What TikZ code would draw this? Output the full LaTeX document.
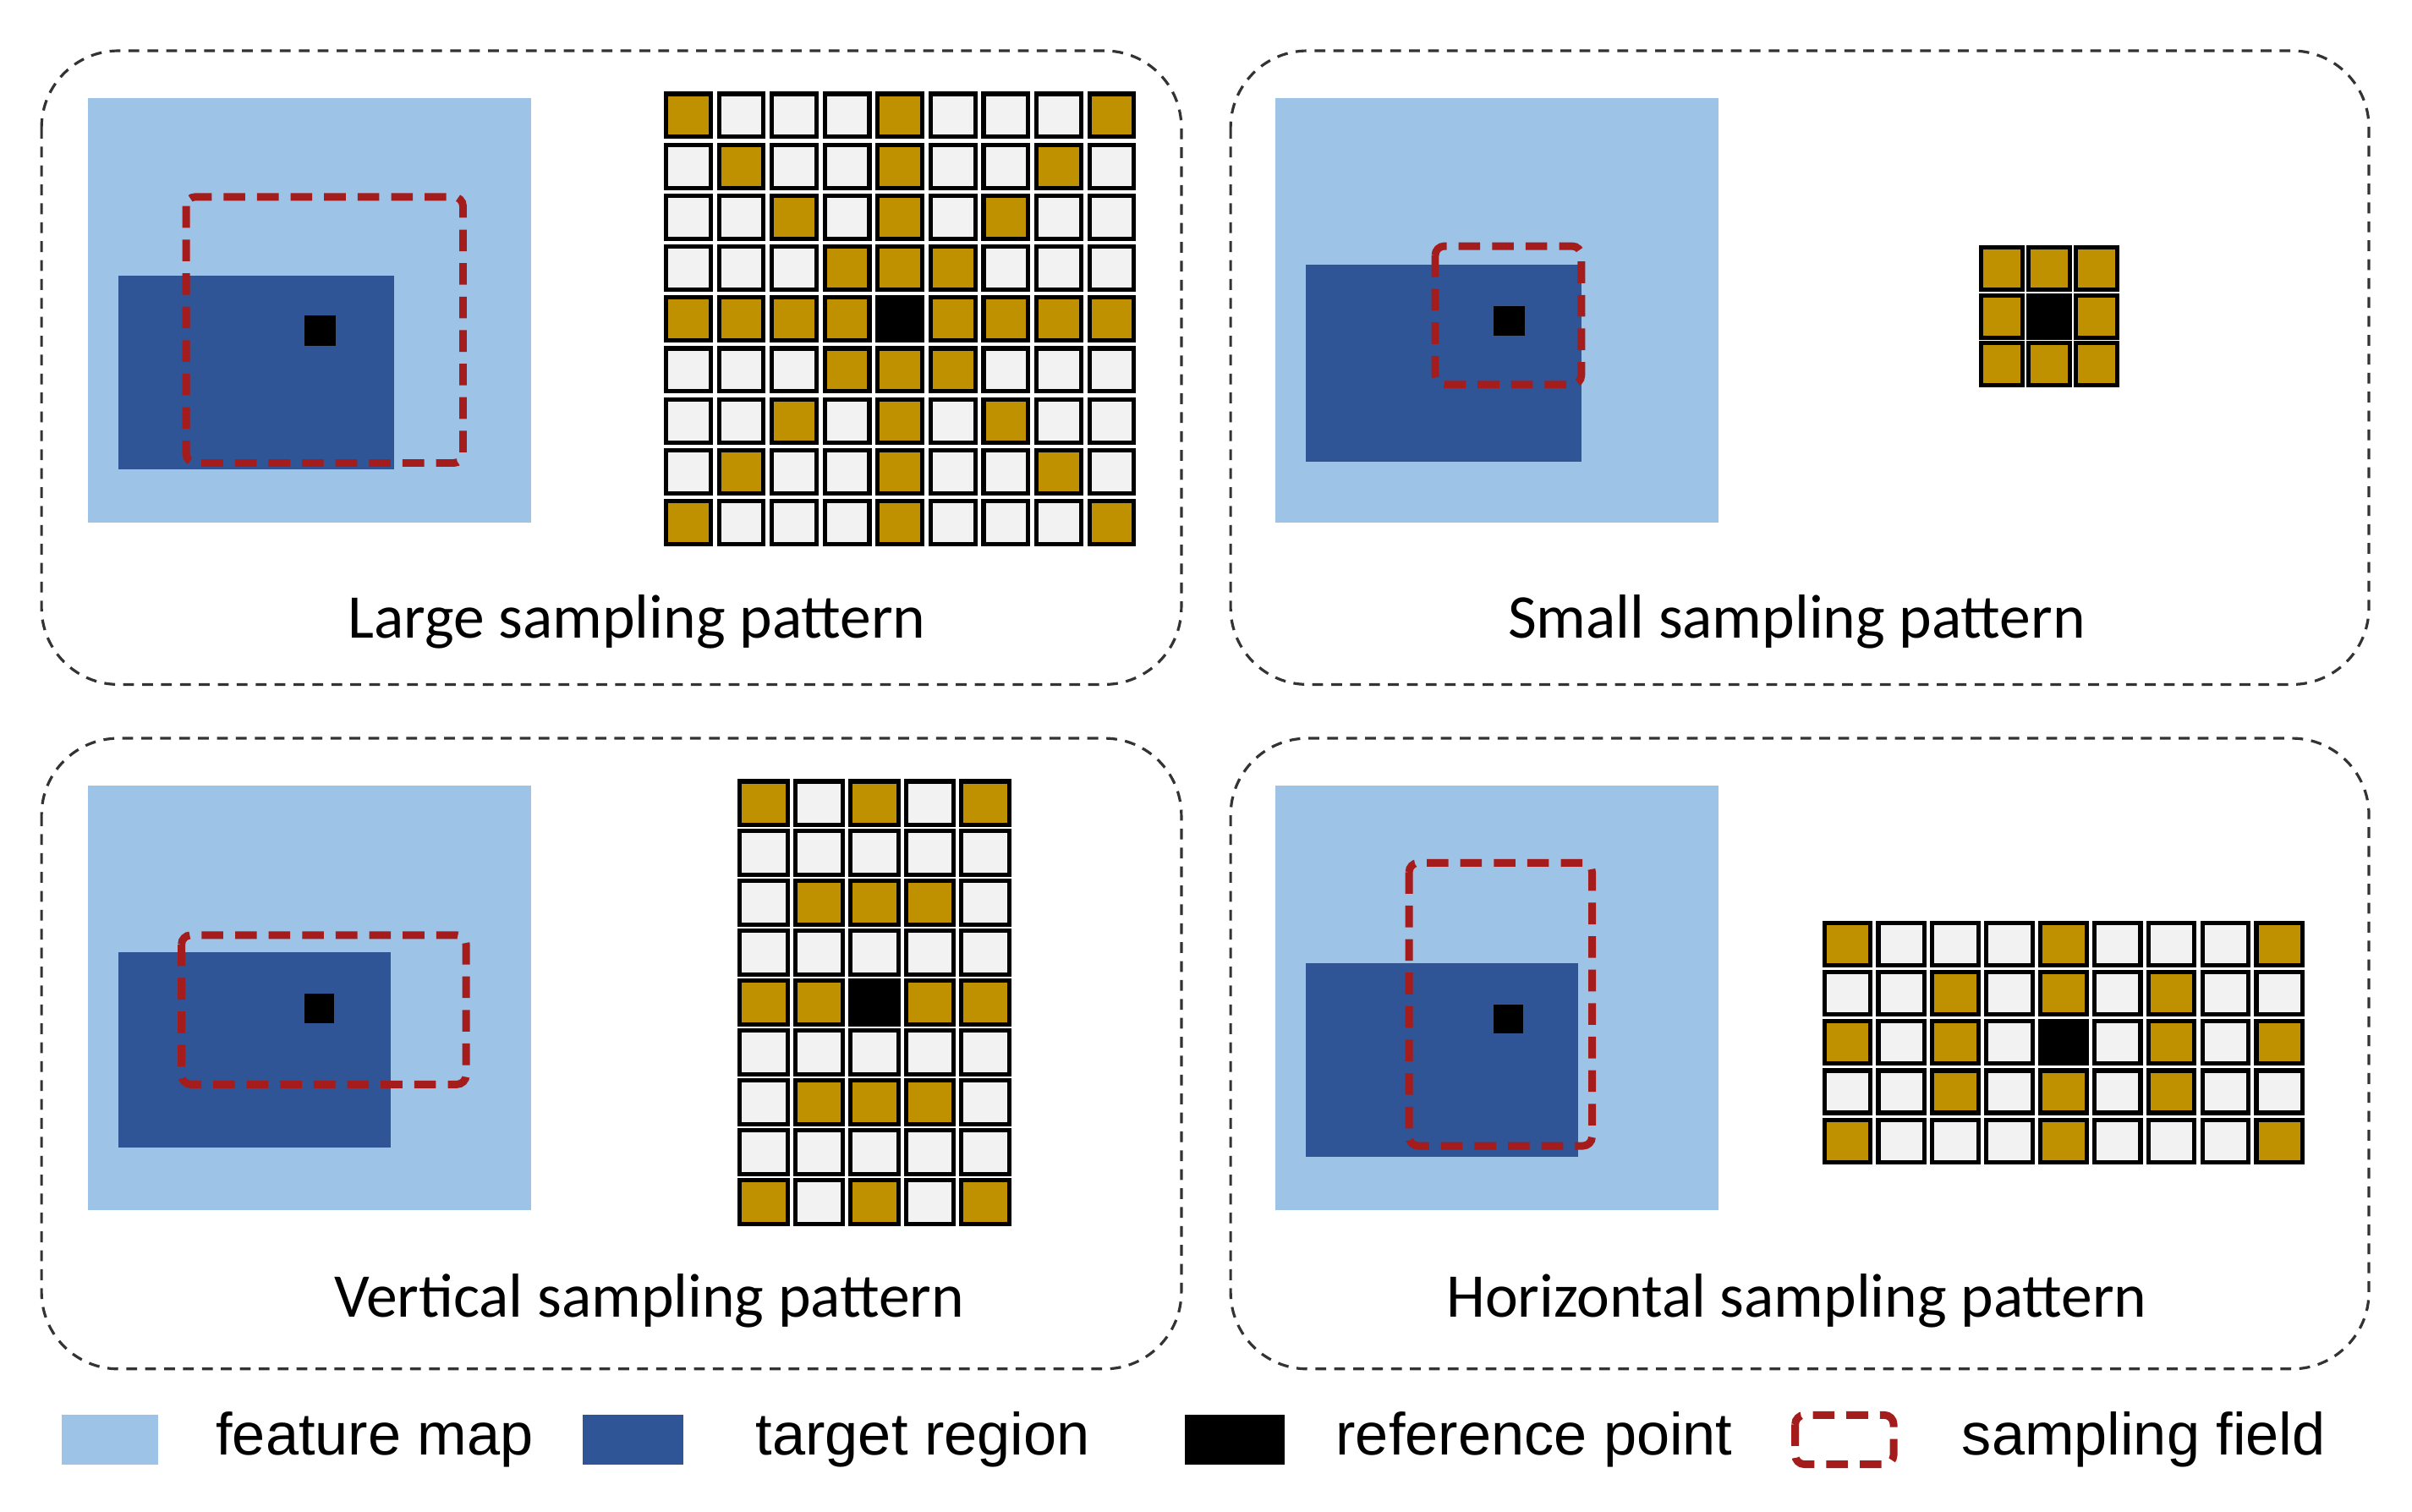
\documentclass[tikz,border=0pt]{standalone}
\usepackage{fontspec}
\setmainfont{Carlito}
\newfontfamily\legfont{Liberation Sans}
\definecolor{fmap}{HTML}{9DC3E6}
\definecolor{treg}{HTML}{2F5597}
\definecolor{gold}{HTML}{BF9000}
\definecolor{cellbg}{HTML}{F2F2F2}
\definecolor{sred}{HTML}{A51C1C}
\begin{document}
\begin{tikzpicture}[x=0.1mm,y=-0.1mm,
  panel/.style={draw=black!80,dashed,line width=0.5pt,dash pattern=on 2pt off 1.5pt,rounded corners=5mm},
  fmapbox/.style={fill=fmap,draw=none},
  tregbox/.style={fill=treg,draw=none},
  refpt/.style={fill=black,draw=none},
  sfield/.style={draw=sred,line width=1.4pt,dash pattern=on 4pt off 2.2pt,rounded corners=0.6mm},
  cell/.style={draw=black,line width=0.8pt,fill=cellbg},
  gcell/.style={draw=black,line width=0.8pt,fill=gold},
  bcell/.style={draw=black,line width=0.8pt,fill=black},
  captxt/.style={font=\fontsize{11.5}{13}\selectfont,anchor=center},
  leg/.style={font=\legfont\fontsize{11}{13}\selectfont,anchor=west}]
\useasboundingbox[fill=white] (0,0) rectangle (1568,983);
% panels
\draw[panel] (27,33) rectangle (768,445);
\draw[panel] (800,33) rectangle (1540,445);
\draw[panel] (27,480) rectangle (768,890);
\draw[panel] (800,480) rectangle (1540,890);
% TL
\fill[fmapbox] (57,64) rectangle (345,340);
\fill[tregbox] (77,179) rectangle (256,305);
\fill[refpt] (198,205) rectangle (218,225);
\draw[sfield] (121,128) rectangle (301,301);
\foreach \r in {0,...,8}{\foreach \c in {0,...,8}{
  \pgfmathtruncatemacro\g{or(or(\r==\c,\r+\c==8),or(\r==4,\c==4))}
  \pgfmathtruncatemacro\b{and(\r==4,\c==4)}
  \ifnum\b=1 \def\st{bcell}\else\ifnum\g=1 \def\st{gcell}\else\def\st{cell}\fi\fi
  \draw[\st] ({433+\c*34.4},{61+\r*33.1}) rectangle +(29,28);}}
\node[captxt] (tlc) at (414,404) {Large sampling pattern};
% TR
\fill[fmapbox] (829,64) rectangle (1117,340);
\fill[tregbox] (849,172) rectangle (1028,300);
\fill[refpt] (971,199) rectangle (991,218);
\draw[sfield] (933,160) rectangle (1028,250);
\foreach \r in {0,1,2}{\foreach \c in {0,1,2}{
  \pgfmathtruncatemacro\b{and(\r==1,\c==1)}
  \ifnum\b=1 \def\st{bcell}\else\def\st{gcell}\fi
  \draw[\st] ({1288+\c*30.7},{161+\r*31}) rectangle +(27,27.5);}}
\node[captxt] (trc) at (1168,404) {Small sampling pattern};
% BL
\fill[fmapbox] (57,511) rectangle (345,787);
\fill[tregbox] (77,619) rectangle (254,746);
\fill[refpt] (198,646) rectangle (217,665);
\draw[sfield] (118,608) rectangle (303,705);
\foreach \r in {0,...,8}{\foreach \c in {0,...,4}{
  \pgfmathtruncatemacro\g{or(\r==4,or(and(or(\r==0,\r==8),mod(\c,2)==0),and(or(\r==2,\r==6),and(\c>0,\c<4))))}
  \pgfmathtruncatemacro\b{and(\r==4,\c==2)}
  \ifnum\b=1 \def\st{bcell}\else\ifnum\g=1 \def\st{gcell}\else\def\st{cell}\fi\fi
  \draw[\st] ({481+\c*36},{508+\r*32.4}) rectangle +(31,28.5);}}
\node[captxt] (blc) at (422,846) {Vertical sampling pattern};
% BR
\fill[fmapbox] (829,511) rectangle (1117,787);
\fill[tregbox] (849,626) rectangle (1026,752);
\fill[refpt] (971,653) rectangle (990,672);
\draw[sfield] (916,561) rectangle (1035,745);
\foreach \r in {0,...,4}{\foreach \c in {0,...,8}{
  \pgfmathtruncatemacro\g{or(\c==4,or(and(or(\c==0,\c==8),mod(\r,2)==0),and(or(\c==2,\c==6),and(\r>0,\r<4))))}
  \pgfmathtruncatemacro\b{and(\r==2,\c==4)}
  \ifnum\b=1 \def\st{bcell}\else\ifnum\g=1 \def\st{gcell}\else\def\st{cell}\fi\fi
  \draw[\st] ({1186+\c*35.1},{600+\r*32}) rectangle +(30,27.5);}}
\node[captxt] (brc) at (1168,846) {Horizontal sampling pattern};
% legend
\fill[fmapbox] (40,920) rectangle (103,952);
\node[leg] (l1) at (128,936) {feature map};
\fill[tregbox] (379,920) rectangle (444,952);
\node[leg] (l2) at (479,936) {target region};
\fill[refpt] (770,920) rectangle (835,952);
\node[leg] (l3) at (856,936) {reference point};
\draw[sfield] (1167,920) rectangle (1231,952);
\node[leg] (l4) at (1263,936) {sampling field};
\end{tikzpicture}
\end{document}
